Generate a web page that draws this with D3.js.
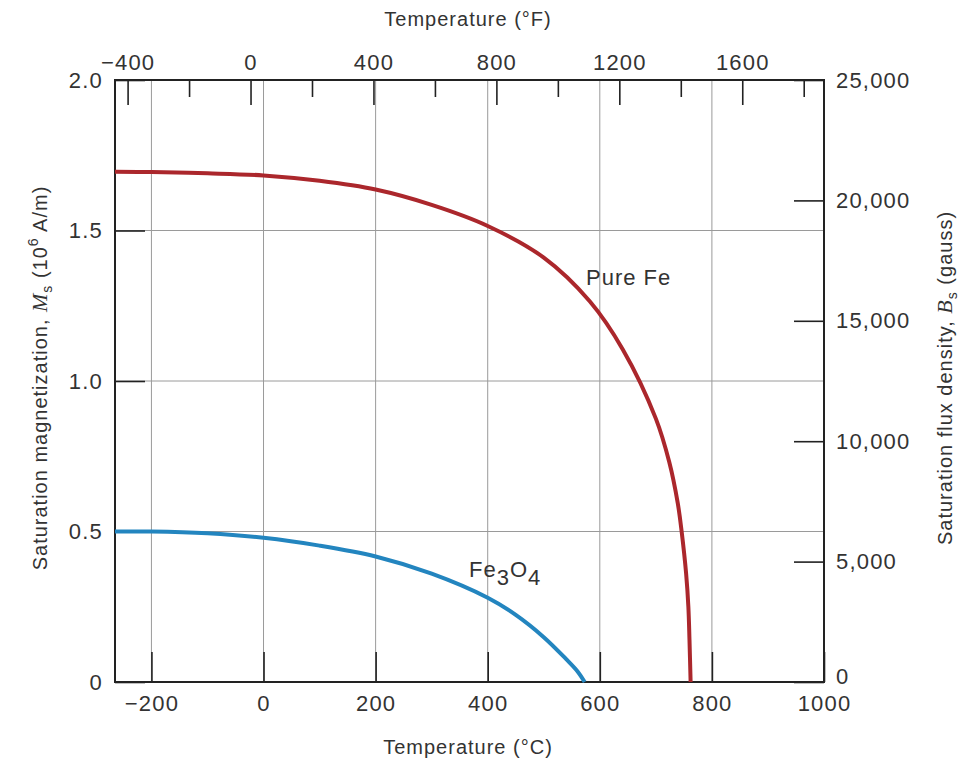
<!DOCTYPE html>
<html lang="en">
<head>
  <meta charset="UTF-8">
  <title>Saturation magnetization vs temperature</title>
  <script src="https://d3js.org/d3.v7.min.js"></script>
  <style>
    body { margin: 0; background: #fff; }
    svg text { font-family: "Liberation Sans", Arial, sans-serif; fill: #333; }
    .tick text { font-size: 22px; letter-spacing: 1.2px; }
  </style>
</head>
<body>
  <svg id="chart" width="973" height="763"></svg>

  <script>
    // Data (temperature in °C, Ms in 10^6 A/m)
    const feTemp = [-265, -200, -100, 0, 100, 200, 300, 400, 500, 582, 641, 700, 724, 739, 746, 754, 758, 760, 762];
    const feMs   = [1.695, 1.694, 1.690, 1.683, 1.665, 1.636, 1.585, 1.515, 1.41, 1.265, 1.105, 0.875, 0.73, 0.595, 0.5, 0.36, 0.25, 0.14, 0];

    const fe3o4Temp = [-265, -200, -100, 0, 100, 200, 300, 400, 450, 500, 540, 560, 573];
    const fe3o4Ms   = [0.500, 0.500, 0.494, 0.479, 0.453, 0.417, 0.36, 0.28, 0.223, 0.149, 0.076, 0.036, 0];

    // Tick values
    const celsiusTicks = [-200, 0, 200, 400, 600, 800, 1000];
    const fahrMajor = [-400, 0, 400, 800, 1200, 1600];
    const fahrMinor = [-200, 200, 600, 1000, 1400, 1800];
    const msTicks = [0, 0.5, 1.0, 1.5, 2.0];
    const gaussTicks = [0, 5000, 10000, 15000, 20000, 25000];

    const svg = d3.select('#chart');

    const pLeft = 115, pRight = 824, pTop = 80, pBottom = 682;

    const x = d3.scaleLinear().domain([-265, 1000]).range([pLeft, pRight]);
    const xF = d3.scaleLinear().domain([-441, 1866]).range([pLeft, pRight]);
    const y = d3.scaleLinear().domain([0, 2]).range([pBottom, pTop]);
    const yB = d3.scaleLinear().domain([0, 25000]).range([pBottom, pTop]);

    // grid lines
    const grid = svg.append('g').attr('stroke', '#9a9a9a').attr('stroke-width', 1);
    grid.selectAll('line.v')
      .data(celsiusTicks.filter(d => d < 1000))
      .enter().append('line')
      .attr('x1', d => x(d)).attr('x2', d => x(d))
      .attr('y1', pTop).attr('y2', pBottom);
    grid.selectAll('line.h')
      .data([0.5, 1.0, 1.5])
      .enter().append('line')
      .attr('x1', pLeft).attr('x2', pRight)
      .attr('y1', d => y(d)).attr('y2', d => y(d));

    function styleAxis(g) {
      g.select('.domain').remove();
      g.selectAll('.tick line').attr('stroke', '#222').attr('stroke-width', 1.6);
      g.selectAll('.tick text').attr('fill', '#333');
    }

    // bottom (°C)
    svg.append('g')
      .attr('transform', `translate(0,${pBottom})`)
      .call(d3.axisBottom(x).tickValues(celsiusTicks).tickFormat(d3.format('d'))
        .tickSizeInner(-30).tickSizeOuter(0).tickPadding(13))
      .call(styleAxis);

    // top (°F) major + minor
    svg.append('g')
      .attr('transform', `translate(0,${pTop})`)
      .call(d3.axisTop(xF).tickValues(fahrMajor).tickFormat(d3.format('d'))
        .tickSizeInner(-25).tickSizeOuter(0).tickPadding(10))
      .call(styleAxis);
    svg.append('g')
      .attr('transform', `translate(0,${pTop})`)
      .call(d3.axisTop(xF).tickValues(fahrMinor).tickFormat('')
        .tickSizeInner(-17).tickSizeOuter(0))
      .call(styleAxis);

    // left (Ms)
    svg.append('g')
      .attr('transform', `translate(${pLeft},0)`)
      .call(d3.axisLeft(y).tickValues(msTicks).tickFormat(d => d === 0 ? '0' : d3.format('.1f')(d))
        .tickSizeInner(-30).tickSizeOuter(0).tickPadding(12))
      .call(styleAxis);

    // right (gauss)
    const rightAxis = svg.append('g')
      .attr('transform', `translate(${pRight},0)`)
      .call(d3.axisRight(yB).tickValues(gaussTicks).tickFormat(d3.format(','))
        .tickSizeInner(-30).tickSizeOuter(0).tickPadding(12))
      .call(styleAxis);
    // the "0" sits a little higher so it clears the 1000 label below
    rightAxis.selectAll('.tick text').filter(d => d === 0).attr('y', -6);

    // frame
    svg.append('rect')
      .attr('x', pLeft).attr('y', pTop)
      .attr('width', pRight - pLeft).attr('height', pBottom - pTop)
      .attr('fill', 'none').attr('stroke', '#222').attr('stroke-width', 2);

    // curves
    const line = d3.line()
      .x(d => x(d[0]))
      .y(d => y(d[1]))
      .curve(d3.curveCatmullRom.alpha(0.5));

    svg.append('path')
      .datum(d3.zip(fe3o4Temp, fe3o4Ms))
      .attr('d', line)
      .attr('fill', 'none').attr('stroke', '#2385bf').attr('stroke-width', 4);

    svg.append('path')
      .datum(d3.zip(feTemp, feMs))
      .attr('d', line)
      .attr('fill', 'none').attr('stroke', '#ab272c').attr('stroke-width', 4);

    // curve labels
    svg.append('text')
      .attr('x', 586).attr('y', 285)
      .style('font-size', '22px').style('letter-spacing', '1px')
      .text('Pure Fe');

    const feo = svg.append('text')
      .attr('x', 469).attr('y', 577)
      .style('font-size', '22px').style('letter-spacing', '1px');
    feo.append('tspan').text('Fe');
    feo.append('tspan').attr('dy', 8).text('3');
    feo.append('tspan').attr('dy', -8).text('O');
    feo.append('tspan').attr('dy', 8).text('4');

    // axis titles
    svg.append('text')
      .attr('x', 468).attr('y', 26)
      .attr('text-anchor', 'middle')
      .style('font-size', '20px').style('letter-spacing', '1px')
      .text('Temperature (°F)');

    svg.append('text')
      .attr('x', 468).attr('y', 754)
      .attr('text-anchor', 'middle')
      .style('font-size', '20px').style('letter-spacing', '1px')
      .text('Temperature (°C)');

    const lt = svg.append('text')
      .attr('transform', 'translate(47,378) rotate(-90)')
      .attr('text-anchor', 'middle')
      .style('font-size', '20px').style('letter-spacing', '1px');
    lt.append('tspan').text('Saturation magnetization, ');
    lt.append('tspan').style('font-family', '"Liberation Serif", serif').style('font-style', 'italic').style('font-size', '22px').text('M');
    lt.append('tspan').attr('dy', 5).style('font-size', '14px').text('s');
    lt.append('tspan').attr('dy', -5).text(' (10');
    lt.append('tspan').attr('dy', -9).style('font-size', '14px').text('6');
    lt.append('tspan').attr('dy', 9).text(' A/m)');

    const rt = svg.append('text')
      .attr('transform', 'translate(952,378) rotate(-90)')
      .attr('text-anchor', 'middle')
      .style('font-size', '20px').style('letter-spacing', '1px');
    rt.append('tspan').text('Saturation flux density, ');
    rt.append('tspan').style('font-family', '"Liberation Serif", serif').style('font-style', 'italic').style('font-size', '22px').text('B');
    rt.append('tspan').attr('dy', 5).style('font-size', '14px').text('s');
    rt.append('tspan').attr('dy', -5).text(' (gauss)');
  </script>
</body>
</html>
